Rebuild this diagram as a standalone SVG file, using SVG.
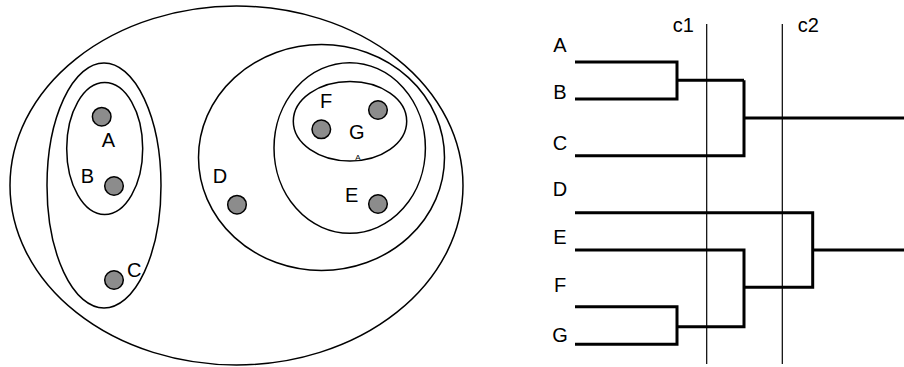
<svg xmlns="http://www.w3.org/2000/svg" width="904" height="367" viewBox="0 0 904 367">
<style>
.set{fill:none;stroke:#000;stroke-width:1.5}
.pt{fill:#8c8c8c;stroke:#000;stroke-width:1.5}
.lb{font-family:"Liberation Sans",Arial,sans-serif;font-size:20px;fill:#000;text-anchor:middle}
.br{fill:none;stroke:#000;stroke-width:3;stroke-linecap:butt}
.cut{stroke:#000;stroke-width:1.2}
</style>
<rect width="904" height="367" fill="#fff"/>
<g id="sets">
<ellipse class="set" cx="236.5" cy="185.5" rx="226.5" ry="179.5"/>
<ellipse class="set" cx="104" cy="185.5" rx="57" ry="122.5"/>
<ellipse class="set" cx="104.7" cy="148.5" rx="38" ry="66"/>
<ellipse class="set" cx="321.5" cy="157.5" rx="123" ry="113"/>
<ellipse class="set" cx="349.7" cy="148" rx="75.7" ry="85.3"/>
<ellipse class="set" cx="350" cy="121.3" rx="56.7" ry="39.7"/>
</g>
<g id="pA"><circle class="pt" cx="101.7" cy="116.7" r="9.3"/><text class="lb" x="108.3" y="146.7">A</text></g>
<g id="pB"><circle class="pt" cx="114" cy="186" r="9.3"/><text class="lb" x="87.3" y="183.3">B</text></g>
<g id="pC"><circle class="pt" cx="114" cy="280" r="9.3"/><text class="lb" x="134.3" y="276.7">C</text></g>
<g id="pD"><circle class="pt" cx="237" cy="204.7" r="9.3"/><text class="lb" x="220" y="183.3">D</text></g>
<g id="pE"><circle class="pt" cx="378" cy="204" r="9.3"/><text class="lb" x="351.7" y="201.7">E</text></g>
<g id="pF"><circle class="pt" cx="321.3" cy="129.3" r="9.3"/><text class="lb" x="326" y="108.3">F</text></g>
<g id="pG"><circle class="pt" cx="378" cy="110" r="9.3"/><text class="lb" x="356.7" y="139.3">G</text></g>
<text x="358" y="160" font-family="Liberation Sans, Arial, sans-serif" font-size="8" text-anchor="middle">A</text>
<g id="leaves">
<text class="lb" x="560" y="51.7">A</text>
<text class="lb" x="560" y="99.3">B</text>
<text class="lb" x="560" y="150">C</text>
<text class="lb" x="560" y="196">D</text>
<text class="lb" x="560" y="244">E</text>
<text class="lb" x="560" y="292.3">F</text>
<text class="lb" x="560" y="341.7">G</text>
</g>
<g id="connectors">
<path class="br" d="M575 62H677V99H575M677 80.3H744M575 155.7H744V80.3M744 118H904"/>
<path class="br" d="M575 306.7H677V344.3H575M677 326.7H744V250H575M744 287.3H812.7V212.7H575M812.7 250H904"/>
</g>
<g id="cuts">
<line class="cut" x1="706.7" y1="24" x2="706.7" y2="364"/>
<line class="cut" x1="782.3" y1="24" x2="782.3" y2="364"/>
<text class="lb" x="683.3" y="32.3">c1</text>
<text class="lb" x="808.3" y="32.3">c2</text>
</g>
</svg>
